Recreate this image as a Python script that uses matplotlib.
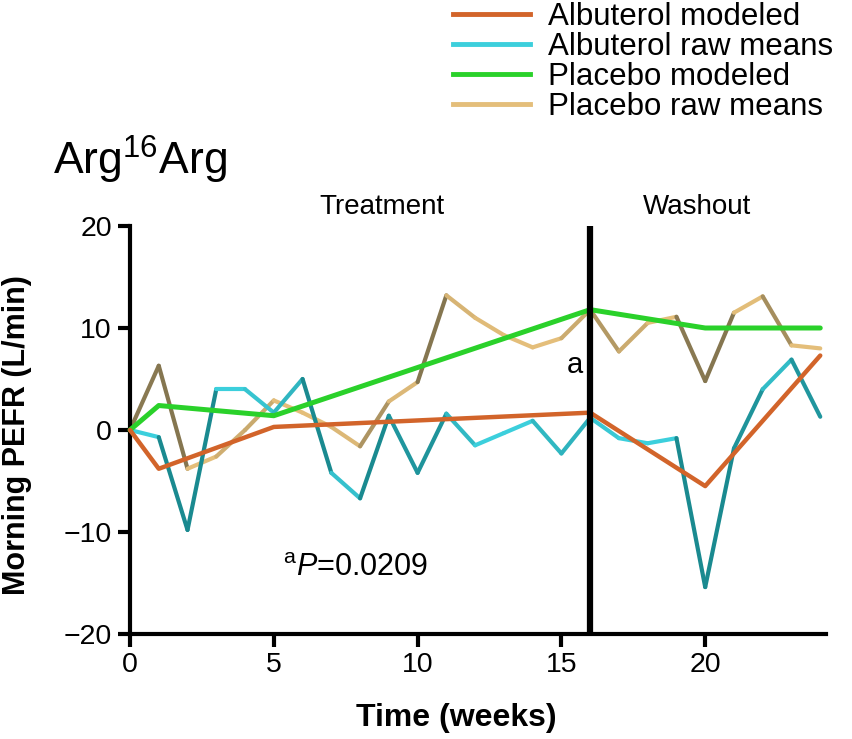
import numpy as np
import matplotlib
matplotlib.use("Agg")
import matplotlib.pyplot as plt
from matplotlib.collections import LineCollection
from matplotlib.colors import to_rgb
from matplotlib.lines import Line2D

plt.rcParams['font.family'] = ['Liberation Sans', 'DejaVu Sans']
plt.rcParams['mathtext.fontset'] = 'custom'
plt.rcParams['mathtext.rm'] = 'Liberation Sans'
plt.rcParams['mathtext.it'] = 'Liberation Sans:italic'
plt.rcParams['mathtext.bf'] = 'Liberation Sans:bold'

# ---- data ----
weeks = list(range(25))
albuterol_raw = [0, -0.7, -9.8, 4.0, 4.0, 1.7, 5.0, -4.2, -6.7, 1.4, -4.2, 1.6, -1.5,
                 -0.3, 0.9, -2.3, 1.2, -0.8, -1.3, -0.8, -15.4, -1.8, 4.0, 6.9, 1.3]
placebo_raw = [0, 6.3, -3.8, -2.6, 0.0, 2.9, 1.7, 0.3, -1.6, 2.8, 4.7, 13.2, 11.0,
               9.3, 8.1, 9.0, 11.8, 7.7, 10.5, 11.1, 4.8, 11.5, 13.1, 8.3, 8.0]
model_weeks = [0, 1, 5, 16, 20, 24]
albuterol_model = [0, -3.8, 0.3, 1.7, -5.5, 7.3]
placebo_model = [0, 2.4, 1.4, 11.8, 10.0, 10.0]

labels = ["Albuterol modeled", "Albuterol raw means", "Placebo modeled", "Placebo raw means"]
xticks = [0, 5, 10, 15, 20]
yticks = [-20, -10, 0, 10, 20]
ytick_labels = ["\u221220", "\u221210", "0", "10", "20"]
washout_start = 16

# ---- colours ----
c_alb_mod = "#d2642a"
c_alb_light, c_alb_dark = "#3ccfdc", "#1a8a90"
c_pla_mod = "#2ad12a"
c_pla_light, c_pla_dark = "#e4be7a", "#857650"

fig = plt.figure(figsize=(8.53, 7.39), dpi=100)
ax = fig.add_axes([130/853, 1-634/739, (826-130)/853, (634-226)/739])


def shaded_line(x, y, light, dark, lw):
    x = np.asarray(x, float)
    y = np.asarray(y, float)
    pts = np.column_stack([x, y])
    segs = np.stack([pts[:-1], pts[1:]], axis=1)
    steep = np.clip((np.abs(np.diff(y)) - 1.5) / 5.0, 0, 1)
    l, d = np.array(to_rgb(light)), np.array(to_rgb(dark))
    cols = [tuple(l + (d - l) * s) for s in steep]
    lc = LineCollection(segs, colors=cols, linewidths=lw, capstyle='round',
                        joinstyle='round', clip_on=False, zorder=2)
    ax.add_collection(lc)


shaded_line(weeks, placebo_raw, c_pla_light, c_pla_dark, 3.0)
shaded_line(weeks, albuterol_raw, c_alb_light, c_alb_dark, 3.0)
ax.plot(model_weeks, placebo_model, color=c_pla_mod, lw=3.6, clip_on=False, zorder=3,
        solid_capstyle='round')
ax.plot(model_weeks, albuterol_model, color=c_alb_mod, lw=3.2, clip_on=False, zorder=3,
        solid_capstyle='round')

ax.vlines(washout_start, -20, 20, color='black', lw=4.5, zorder=6)

ax.set_xlim(0, 24.2)
ax.set_ylim(-20, 20)
ax.set_xticks(xticks)
ax.set_yticks(yticks)
ax.set_yticklabels(ytick_labels)
for s in ['top', 'right']:
    ax.spines[s].set_visible(False)
for s in ['left', 'bottom']:
    ax.spines[s].set_linewidth(3)
ax.tick_params(direction='out', length=9, width=3, labelsize=20.5, pad=4)

ax.set_xlabel("Time (weeks)", fontsize=23, fontweight='bold')
ax.xaxis.set_label_coords((456-130)/(826-130), -0.17)
ax.set_ylabel("Morning PEFR (L/min)", fontsize=22, fontweight='bold')
ax.yaxis.set_label_coords(-(130-32)/(826-130), (634-435)/(634-226))

# legend
handles = [Line2D([], [], color=c_alb_mod, lw=3.5),
           Line2D([], [], color=c_alb_light, lw=3.5),
           Line2D([], [], color=c_pla_mod, lw=3.5),
           Line2D([], [], color=c_pla_light, lw=3.5)]
fig.legend(handles, labels, loc='upper left', bbox_to_anchor=(453/853, 1-2/739),
           frameon=False, fontsize=22.5, handlelength=2.45, handletextpad=0.6,
           labelspacing=0.0, borderpad=0.0, borderaxespad=0.0)

fig.text(53/853, 1-175/739, r"Arg$^{\mathrm{16}}$Arg", fontsize=32, va='baseline', ha='left')
fig.text(382/853, 1-207/739, "Treatment", fontsize=20, ha='center', va='center')
fig.text(697/853, 1-207/739, "Washout", fontsize=20, ha='center', va='center')
fig.text(583/853, 1-365/739, "a", fontsize=21, ha='right', va='center')
fig.text(283/853, 1-568/739, r"$^{\mathrm{a}}\mathit{P}$=0.0209", fontsize=22, ha='left', va='center')

fig.savefig("out.png", dpi=100)
